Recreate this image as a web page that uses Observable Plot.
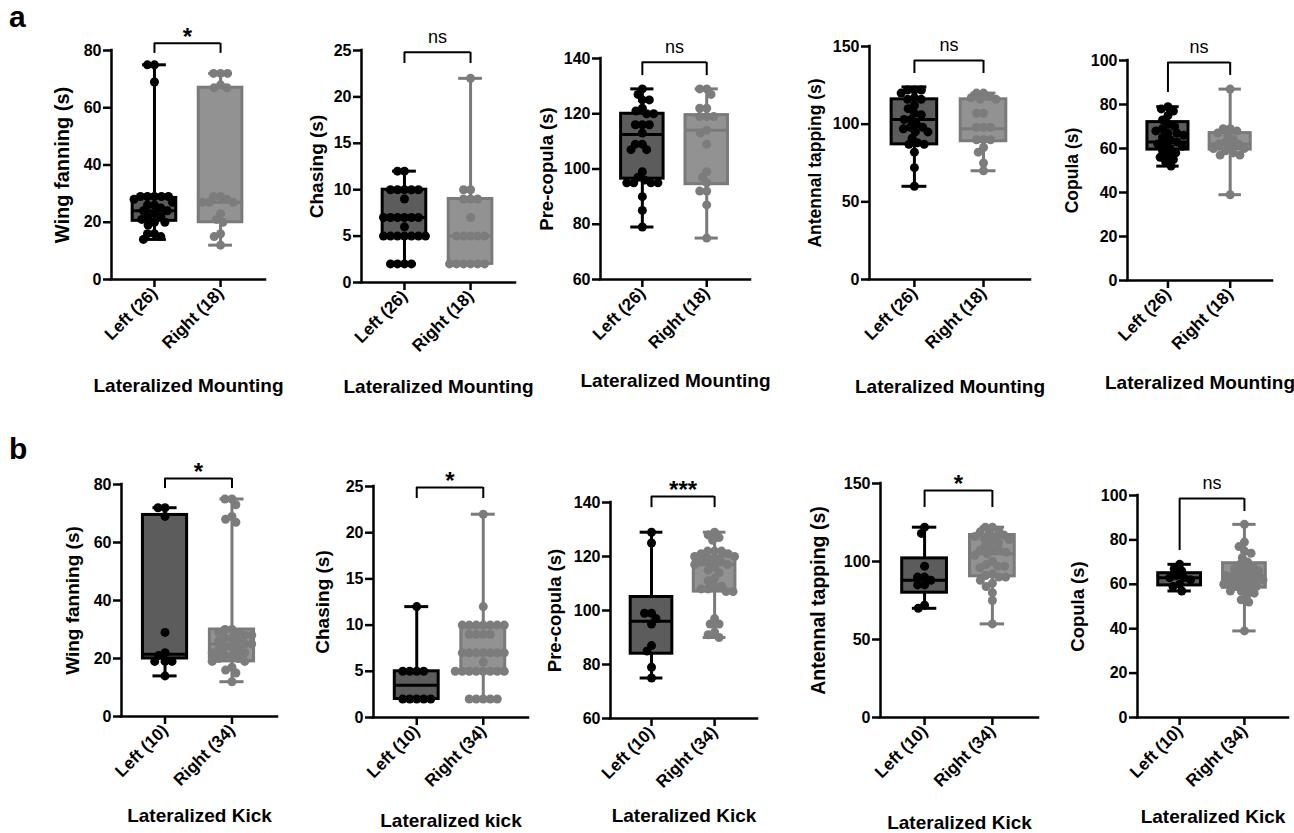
<!DOCTYPE html>
<html><head><meta charset="utf-8">
<script src="https://cdn.jsdelivr.net/npm/d3@7"></script>
<script src="https://cdn.jsdelivr.net/npm/@observablehq/plot@0.6"></script>
<style>
body{margin:0;background:#fff;}
#wrap{position:relative;width:1294px;height:833px;overflow:hidden;background:#fff;font-family:"Liberation Sans",Arial,sans-serif;}
.panel{position:absolute;}
.panel svg{overflow:visible;max-width:none !important;}
.letter{position:absolute;font-weight:bold;font-size:30px;line-height:1;color:#000;}
</style></head><body><div id="wrap"></div>
<script>
// ---------- data ----------
const groupsA = ["Left (26)", "Right (18)"];
const groupsB = ["Left (10)", "Right (34)"];

// Row a: Lateralized Mounting
const aWingL = [75,75,69,29,29,29,29,29,28,27,26,26,25,24,24,23,22,22,21,20,20,19,16,16,15,14];
const aWingR = [72,72,72,68,67,67,29,29,28,27,27,27,23,21,20,16,15,12];
const aWingBoxL = [14,20.5,24,28.5,75];
const aWingBoxR = [12,20,27,67,72];

const aChaseL = [12,12,10,10,10,10,10,9,7,7,7,7,7,7,6,5,5,5,5,5,5,5,2,2,2,2];
const aChaseR = [22,10,10,9,9,9,7,5,5,5,5,5,2,2,2,2,2,2];
const aChaseBoxL = [2,5,7,10,12];
const aChaseBoxR = [2,2,5,9,22];

const aPreL = [129,127,125,125,122,121,120,120,116,116,116,113,109,109,107,107,99,97,96,95,95,95,95,90,85,79];
const aPreR = [129,129,127,122,122,119,119,119,114,113,109,99,97,95,92,92,87,75];
const aPreBoxL = [79,96.5,112.5,120,129];
const aPreBoxR = [75,94.5,114,119.5,129];

const aAntL = [122,122,122,120,117,116,116,112,110,107,106,103,103,100,98,98,97,95,95,91,88,87,87,82,72,60];
const aAntR = [120,120,118,117,116,116,107,107,98,98,98,90,90,90,85,82,75,70];
const aAntBoxL = [60,87,103,116,124];
const aAntBoxR = [70,89,97,116,120];

const aCopL = [79,78,77,75,73,71,70,69,68,67,67,66,65,64,63,62,62,61,60,59,58,57,56,55,54,52];
const aCopR = [87,69,69,68,67,66,64,63,62,62,61,60,60,59,58,57,57,39];
const aCopBoxL = [52,59.5,63,72,79];
const aCopBoxR = [39,59.5,62,67,87];

// Row b: Lateralized Kick
const bWingL = [72,72,69,29,22,21,19,19,19,14];
const bWingR = [75,75,73,69,68,67,30,30,29,29,28,28,27,27,26,26,25,25,24,24,23,23,22,22,21,21,20,20,19,19,17,16,15,12];
const bWingBoxL = [14,20,21.5,69.5,72];
const bWingBoxR = [12,19,25,30,75];

const bChaseL = [12,5,5,5,5,2,2,2,2,2];
const bChaseR = [22,12,10,10,10,10,10,10,10,9,9,9,9,7,7,7,7,7,7,7,6,5,5,5,5,5,5,5,5,2,2,2,2,2];
const bChaseBoxL = [2,2,3.5,5,12];
const bChaseBoxR = [2,5,7,10,22];

const bPreL = [129,125,99,99,97,95,87,85,79,75];
const bPreR = [129,128,127,126,122,122,122,121,121,120,120,119,119,118,118,117,117,116,115,114,112,111,109,109,108,108,107,107,97,95,95,92,91,90];
const bPreBoxL = [75,84,96,105,129];
const bPreBoxR = [90,107,117,120,129];

const bAntL = [122,118,97,90,90,88,85,85,72,70];
const bAntR = [122,122,120,119,118,117,116,116,115,114,113,112,110,108,107,107,106,105,104,100,98,97,97,96,92,91,90,90,88,86,84,80,75,60];
const bAntBoxL = [70,80,88,102,122];
const bAntBoxR = [60,90.5,105,117,122];

const bCopL = [69,67,66,64,63,63,62,60,59,57];
const bCopR = [87,79,77,75,74,72,70,69,68,67,67,66,65,65,64,64,63,63,62,62,61,61,60,60,59,59,58,57,57,56,55,53,52,39];
const bCopBoxL = [57,59.5,63,65,69];
const bCopBoxR = [39,58.5,64,69.5,87];

// ---------- panels ----------
const panels = [
  {ylabel:"Wing fanning (s)", domain:[0,80], ticks:[0,20,40,60,80], groups:groupsA, title:"Lateralized Mounting", L:aWingL, R:aWingR, boxL:aWingBoxL, boxR:aWingBoxR, sig:{label:"*", y:82.5, yl:79, yr:79},
   lay:{ax:111, yTop:50, yBot:279, xEnd:265, ylo:49, to:106, fs:20}},
  {ylabel:"Chasing (s)", domain:[0,25], ticks:[0,5,10,15,20,25], groups:groupsA, title:"Lateralized Mounting", L:aChaseL, R:aChaseR, boxL:aChaseBoxL, boxR:aChaseBoxR, sig:{label:"ns", y:24.8, yl:23.6, yr:23.6},
   lay:{ax:361, yTop:50, yBot:282, xEnd:515, ylo:45, to:104, fs:19}},
  {ylabel:"Pre-copula (s)", domain:[60,140], ticks:[60,80,100,120,140], groups:groupsA, title:"Lateralized Mounting", L:aPreL, R:aPreR, boxL:aPreBoxL, boxR:aPreBoxR, sig:{label:"ns", y:138.6, yl:133.8, yr:133.8},
   lay:{ax:600, yTop:58, yBot:279, xEnd:750, ylo:53, to:101, fs:18.5}},
  {ylabel:"Antennal tapping (s)", domain:[0,150], ticks:[0,50,100,150], groups:groupsA, title:"Lateralized Mounting", L:aAntL, R:aAntR, boxL:aAntBoxL, boxR:aAntBoxR, sig:{label:"ns", y:141, yl:132.6, yr:132.6},
   lay:{ax:869, yTop:46, yBot:279, xEnd:1030, ylo:54, to:107, fs:17.5}},
  {ylabel:"Copula (s)", domain:[0,100], ticks:[0,20,40,60,80,100], groups:groupsA, title:"Lateralized Mounting", L:aCopL, R:aCopR, boxL:aCopBoxL, boxR:aCopBoxR, sig:{label:"ns", y:99.1, yl:85.5, yr:93.2},
   lay:{ax:1127, yTop:60, yBot:280, xEnd:1272, ylo:55, to:102, fs:17.5}},
  {ylabel:"Wing fanning (s)", domain:[0,80], ticks:[0,20,40,60,80], groups:groupsB, title:"Lateralized Kick", L:bWingL, R:bWingR, boxL:bWingBoxL, boxR:bWingBoxR, sig:{label:"*", y:82.1, yl:78.6, yr:78.6},
   lay:{ax:121, yTop:484, yBot:716, xEnd:277, ylo:49, to:99, fs:19}},
  {ylabel:"Chasing (s)", domain:[0,25], ticks:[0,5,10,15,20,25], groups:groupsB, title:"Lateralized kick", L:bChaseL, R:bChaseR, boxL:bChaseBoxL, boxR:bChaseBoxR, sig:{label:"*", y:24.9, yl:23.7, yr:23.7},
   lay:{ax:373, yTop:486, yBot:717, xEnd:528, ylo:51, to:103, fs:19}},
  {ylabel:"Pre-copula (s)", domain:[60,140], ticks:[60,80,100,120,140], groups:groupsB, title:"Lateralized Kick", L:bPreL, R:bPreR, boxL:bPreBoxL, boxR:bPreBoxR, sig:{label:"***", y:142.2, yl:138.1, yr:138.1},
   lay:{ax:610, yTop:502, yBot:718, xEnd:757, ylo:55, to:97, fs:18.5}},
  {ylabel:"Antennal tapping (s)", domain:[0,150], ticks:[0,50,100,150], groups:groupsB, title:"Lateralized Kick", L:bAntL, R:bAntR, boxL:bAntBoxL, boxR:bAntBoxR, sig:{label:"*", y:145.5, yl:134.6, yr:134.6},
   lay:{ax:880, yTop:483, yBot:717, xEnd:1038, ylo:62, to:105, fs:19.5}},
  {ylabel:"Copula (s)", domain:[0,100], ticks:[0,20,40,60,80,100], groups:groupsB, title:"Lateralized Kick", L:bCopL, R:bCopR, boxL:bCopBoxL, boxR:bCopBoxR, sig:{label:"ns", y:98.6, yl:75.2, yr:92.8},
   lay:{ax:1137, yTop:495, yBot:717, xEnd:1288, ylo:59, to:99, fs:18.5}}
];

const FONT = '"Liberation Sans", Arial, sans-serif';
const colors = [
  {fill:"#5c5c5c", stroke:"#000000", dot:"#000000"},
  {fill:"#929292", stroke:"#7a7a7a", dot:"#7c7c7c"}
];

function swarm(vals, pxPerY, D) {
  const placed = [];
  const sorted = vals.slice().sort((a,b)=>b-a);
  const out = [];
  for (const v of sorted) {
    const py = v * pxPerY;
    const cands = [0];
    for (const p of placed) {
      const dy = Math.abs(p.py - py);
      if (dy < D) { const dx = Math.sqrt(D*D - dy*dy); cands.push(p.px + dx, p.px - dx); }
    }
    cands.sort((a,b)=>Math.abs(a)-Math.abs(b) || a-b);
    const c = cands.find(c => placed.every(p => (p.px-c)*(p.px-c)+(p.py-py)*(p.py-py) >= D*D - 1e-6));
    placed.push({px:c, py});
    out.push({v, off:c});
  }
  return out;
}

function makePanel(cfg) {
  const lay = cfg.lay;
  const [d0, d1] = cfg.domain;
  const padL = 0.65, padR = 0.68;
  const innerW = lay.xEnd - lay.ax;
  const innerH = lay.yBot - lay.yTop;
  const step = innerW / (1 + padL + padR);
  const pxPerY = innerH / (d1 - d0);
  const mL = 80, mR = 40, mT = 60, mB = 125;
  const halfBox = 0.33, halfCap = 0.18;

  const marks = [];
  [[cfg.L, cfg.boxL], [cfg.R, cfg.boxR]].forEach(([vals, box], g) => {
    const c = colors[g];
    const b = {g, min:box[0], q1:box[1], med:box[2], q3:box[3], max:box[4]};
    marks.push(Plot.ruleX([b], {x:"g", y1:"min", y2:"max", stroke:c.stroke, strokeWidth:3}));
    marks.push(Plot.ruleY([b.min, b.max], {y:d=>d, x1:g-halfCap, x2:g+halfCap, stroke:c.stroke, strokeWidth:3}));
    marks.push(Plot.rect([b], {x1:d=>d.g-halfBox, x2:d=>d.g+halfBox, y1:"q1", y2:"q3", fill:c.fill, stroke:c.stroke, strokeWidth:3}));
    marks.push(Plot.ruleY([b.med], {y:d=>d, x1:g-halfBox, x2:g+halfBox, stroke:c.stroke, strokeWidth:3}));
    const pts = swarm(vals, pxPerY, 7).map(p => ({v:p.v, x:g + p.off/step}));
    marks.push(Plot.dot(pts, {x:"x", y:"v", r:4.5, fill:c.dot, stroke:"none"}));
  });

  // axes
  marks.push(Plot.ruleX([-padL], {stroke:"#000", strokeWidth:2.5, strokeLinecap:"square"}));
  marks.push(Plot.ruleY([d0], {stroke:"#000", strokeWidth:2.5, strokeLinecap:"square"}));
  marks.push(Plot.axisY({ticks:cfg.ticks, tickSize:8, tickPadding:2, strokeWidth:2.5, fontSize:16, fontWeight:"bold", label:null, tickFormat:d=>String(d)}));
  marks.push(Plot.axisX({ticks:[0,1], tickSize:8, tickPadding:3, strokeWidth:2.5, fontSize:17, fontWeight:"bold", label:null, tickRotate:-45, tickFormat:i=>cfg.groups[i]}));

  // significance bracket
  const s = cfg.sig;
  marks.push(Plot.ruleY([s.y], {y:d=>d, x1:0, x2:1, stroke:"#000", strokeWidth:2}));
  marks.push(Plot.ruleX([{x:0, y1:s.yl, y2:s.y}, {x:1, y1:s.yr, y2:s.y}], {x:"x", y1:"y1", y2:"y2", stroke:"#000", strokeWidth:2}));
  const isStar = s.label.includes("*");
  marks.push(Plot.text([s], {x:()=>0.5, y:"y", text:"label", fontSize:isStar?24:18, fontWeight:isStar?"bold":"normal", dy:isStar?-6:-15, fill:"#000"}));

  // y label and x title
  marks.push(Plot.text([cfg.ylabel], {frameAnchor:"left", textAnchor:"middle", lineAnchor:"middle", rotate:-90, dx:-lay.ylo, fontSize:lay.fs, fontWeight:"bold", fill:"#000"}));
  marks.push(Plot.text([cfg.title], {frameAnchor:"bottom", textAnchor:"middle", lineAnchor:"middle", dy:lay.to, fontSize:19, fontWeight:"bold", fill:"#000"}));

  const W = innerW + mL + mR, H = innerH + mT + mB;
  const svg = Plot.plot({
    width: W,
    height: H,
    marginLeft: mL, marginRight: mR, marginTop: mT, marginBottom: mB,
    x: {type:"linear", domain:[-padL, 1 + padR]},
    y: {type:"linear", domain:[d0, d1]},
    style: {fontFamily: FONT, fontSize:"14px", color:"#000", background:"transparent", overflow:"visible", maxWidth:"none"},
    marks
  });
  const div = document.createElement("div");
  div.className = "panel";
  div.style.left = (lay.ax - mL) + "px";
  div.style.top = (lay.yTop - mT) + "px";
  div.style.width = W + "px";
  div.style.height = H + "px";
  div.appendChild(svg);
  return div;
}

const wrap = document.getElementById("wrap");
for (const p of panels) wrap.appendChild(makePanel(p));
const la = document.createElement("div"); la.className = "letter"; la.textContent = "a"; la.style.left = "9px"; la.style.top = "2px"; wrap.appendChild(la);
const lb = document.createElement("div"); lb.className = "letter"; lb.textContent = "b"; lb.style.left = "9px"; lb.style.top = "434px"; wrap.appendChild(lb);
</script>
</body></html>
